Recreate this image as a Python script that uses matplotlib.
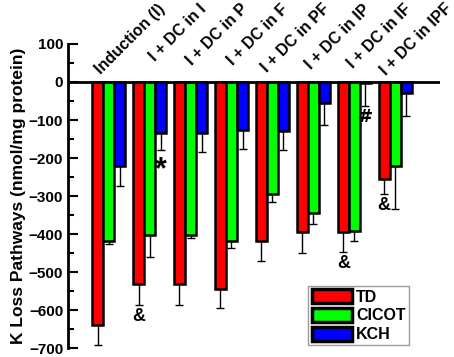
import matplotlib
matplotlib.use("Agg")
import matplotlib.pyplot as plt
import numpy as np
from matplotlib.ticker import MultipleLocator

plt.rcParams['font.family'] = ['Liberation Sans', 'DejaVu Sans']
plt.rcParams['font.weight'] = 'bold'

# groups and values (nmol/mg protein)
groups = ["Induction (I)", "I + DC in I", "I + DC in P", "I + DC in F",
          "I + DC in PF", "I + DC in IP", "I + DC in IF", "I + DC in IPF"]
td = [-639, -532, -532, -543, -417, -395, -393, -256]
td_err = [53, 55, 55, 50, 54, 54, 54, 39]
cicot = [-417, -401, -401, -417, -293, -343, -392, -221]
cicot_err = [8, 59, 9, 20, 22, 29, 25, 113]
kch = [-222, -134, -134, -125, -128, -56, -3, -30]
kch_err = [50, 45, 50, 52, 51, 57, 60, 59]

# significance marks: (group, series index, symbol)
marks = [(1, 0, "&"), (1, 2, "*"), (6, 0, "&"), (6, 2, "#"), (7, 0, "&")]

fig = plt.figure(figsize=(4.54, 3.57), dpi=100)
ax = fig.add_axes([0.150, 0.024, 0.819, 0.853])

x = np.arange(len(groups))
w = 0.27
series = [(td, td_err, '#ff0000', 'TD'),
          (cicot, cicot_err, '#00ff00', 'CICOT'),
          (kch, kch_err, '#0000ff', 'KCH')]

for k, (vals, errs, col, lab) in enumerate(series):
    pos = x + (k - 1) * w
    ax.bar(pos, vals, w, color=col, edgecolor='black', linewidth=1.8,
           label=lab, zorder=2)
    ax.errorbar(pos, vals, yerr=[errs, np.zeros(len(errs))], fmt='none',
                ecolor='black', elinewidth=1, capsize=3, capthick=1, zorder=1)

for g, s, sym in marks:
    vals, errs = series[s][0], series[s][1]
    y = vals[g] - errs[g] - 30
    if sym == "*":
        ax.text(x[g] + (s - 1) * w, y - 22, sym, ha='center', va='center',
                fontsize=22, fontweight='bold')
    elif sym == "#":
        ax.text(x[g] + (s - 1) * w, y, sym, ha='center', va='center',
                fontsize=13, family='DejaVu Sans')
    else:
        ax.text(x[g] + (s - 1) * w, y, sym, ha='center', va='center',
                fontsize=13, fontweight='bold')

# zero line
ax.axhline(0, color='black', linewidth=2, zorder=3)

# rotated group labels above the bars
for i, name in enumerate(groups):
    ax.text(i + 1.2, 212, name, rotation=45, rotation_mode='anchor',
            ha='right', va='top', fontsize=11.5, fontweight='bold',
            clip_on=False)

ax.set_xlim(-0.99, 8.09)
ax.set_ylim(-700, 100)
ax.yaxis.set_major_locator(MultipleLocator(100))
ax.yaxis.set_minor_locator(MultipleLocator(50))
ax.tick_params(axis='y', which='major', direction='in', length=7, width=1.5,
               labelsize=11)
ax.tick_params(axis='y', which='minor', direction='in', length=4, width=1.5)
ax.set_xticks([])
for side in ['top', 'right', 'bottom']:
    ax.spines[side].set_visible(False)
ax.spines['left'].set_linewidth(2)

ax.set_ylabel('K Loss Pathways (nmol/mg protein)', fontsize=12.5,
              fontweight='bold', labelpad=2)

leg = ax.legend(loc='lower right', bbox_to_anchor=(0.917, 0.01),
                fontsize=11.5, frameon=True, fancybox=False, edgecolor='gray',
                handlelength=2.5, handleheight=1.0, handletextpad=0.3,
                labelspacing=0.2, borderpad=0.2, borderaxespad=0)
leg.get_frame().set_linewidth(1)
for h in leg.legend_handles:
    h.set_linewidth(2.5)

fig.savefig('out.png', dpi=100)
